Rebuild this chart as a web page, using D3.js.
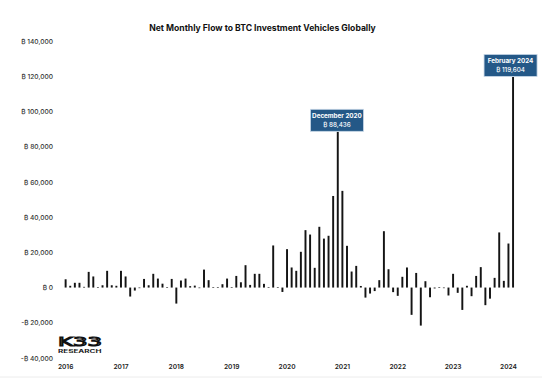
<!DOCTYPE html>
<html><head><meta charset="utf-8">
<script src="https://cdn.jsdelivr.net/npm/d3@7"></script>
<style>
body{margin:0;background:#fff;}
svg{display:block;font-family:Inter,'Noto Sans','DejaVu Sans',sans-serif;}
</style></head>
<body><svg id="c" width="553" height="383"></svg>
<script>
const title = "Net Monthly Flow to BTC Investment Vehicles Globally";
const startMonth = "2016-01";
// net monthly flow in BTC, Jan 2016 .. Feb 2024
const flow2016 = [4700, 1000, 2700, 2700, 400, 8900, 6300, 300, 1300, 9500, 1300, 1000];
const flow2017 = [9500, 6300, -5100, -1700, -300, 4900, 1300, 7800, 5100, 2200, 200, 4900];
const flow2018 = [-9100, 4000, 5100, 800, 1100, -200, 10200, 4200, 200, 300, 1900, 5100];
const flow2019 = [200, 6600, 3000, 12700, 1500, 7800, 7800, 2100, 300, 23900, 300, -2500];
const flow2020 = [21800, 11400, 9500, 20300, 32600, 30100, 11200, 34500, 27800, 29400, 52000, 88436];
const flow2021 = [54900, 23700, 9100, 12300, 900, -5700, -3400, -2000, 4200, 32000, 10400, -2600];
const flow2022 = [-4700, 6100, 11400, -15500, 8300, -21600, 3600, -5500, -500, 200, -300, -4500];
const flow2023 = [7800, -3000, -12700, 1000, -4900, 6600, 11600, -10000, -6300, 5500, 31300, 3800];
const flow2024 = [25000, 119604];
const yTicks = [-40000, -20000, 0, 20000, 40000, 60000, 80000, 100000, 120000, 140000];
const yearLabels = ["2016","2017","2018","2019","2020","2021","2022","2023","2024"];
const callouts = [{month:"2020-12", label:"December 2020"}, {month:"2024-02", label:"February 2024"}];

const values = [].concat(flow2016, flow2017, flow2018, flow2019, flow2020, flow2021, flow2022, flow2023, flow2024);
const parse = d3.timeParse("%Y-%m");
const fmtKey = d3.timeFormat("%Y-%m");
const t0 = parse(startMonth);
const months = values.map((v,i)=> fmtKey(d3.timeMonth.offset(t0, i)));
const data = months.map((m,i)=>({m, v: values[i]}));

const svg = d3.select("#c");
const step = 4.64, c0 = 64.3;
const x = d3.scaleBand().domain(months)
  .range([c0 - step/2, c0 + step*(months.length-1) + step/2]).padding(0.58).align(0.5);
const y = d3.scaleLinear().domain([-40000, 140000]).range([358, 41]);
const btc = d3.format(",");
const yLab = v => (v < 0 ? "-\u20BF " : "\u20BF ") + btc(Math.abs(v));

// title
svg.append("text").attr("x", 262.5).attr("y", 31).attr("text-anchor","middle")
  .attr("font-size", 8.6).attr("font-weight", 700).attr("fill","#111").text(title);

// y axis labels
const yAxis = d3.axisLeft(y).tickValues(yTicks).tickFormat(yLab).tickSize(0).tickPadding(0);
const ga = svg.append("g").attr("transform","translate(53,0)").call(yAxis);
ga.select(".domain").remove();
ga.selectAll("text").attr("font-size", 6.6).attr("font-weight", 500).attr("fill","#333")
  .attr("font-family","Inter,'Noto Sans','DejaVu Sans',sans-serif");

// x axis year labels
const xAxis = d3.axisBottom(x).tickValues(yearLabels.map(yr => yr + "-01"))
  .tickFormat(d => d.slice(0,4)).tickSize(0).tickPadding(0);
const gx = svg.append("g").attr("transform","translate(0,364)").call(xAxis);
gx.select(".domain").remove();
gx.selectAll("text").attr("font-size", 6.6).attr("font-weight", 600).attr("fill","#222")
  .attr("font-family","Inter,'Noto Sans','DejaVu Sans',sans-serif");

// bars
svg.append("g").selectAll("rect").data(data).join("rect")
  .attr("x", d => x(d.m)).attr("width", x.bandwidth())
  .attr("y", d => y(Math.max(0, d.v)))
  .attr("height", d => Math.max(0.6, Math.abs(y(d.v) - y(0))))
  .attr("fill", "#141414");

// callouts
const cg = svg.append("g");
callouts.forEach(c => {
  const d = data.find(e => e.m === c.month);
  const cx = x(d.m) + x.bandwidth()/2 - (c.month === "2024-02" ? 2.5 : 0.8);
  const top = y(d.v);
  const w = 53, h = 22;
  const g = cg.append("g").attr("transform", `translate(${cx - w/2},${top - h - 0.5})`);
  g.append("rect").attr("width", w).attr("height", h).attr("fill","#245887")
    .attr("stroke","#c6d6e6").attr("stroke-width",0.8);
  g.append("text").attr("x", w/2).attr("y", 8.6).attr("text-anchor","middle")
    .attr("font-size", 6.3).attr("font-weight",700).attr("fill","#fff").text(c.label);
  g.append("text").attr("x", w/2).attr("y", 17.8).attr("text-anchor","middle")
    .attr("font-size", 6.3).attr("font-weight",500).attr("fill","#fff").text("\u20BF " + btc(d.v));
});

// logo
const lg = svg.append("g");
lg.append("text").attr("x", 58).attr("y", 345.5).attr("font-size", 12.5).attr("font-weight", 400)
  .attr("fill","none").attr("stroke","#111").attr("stroke-width",1.1)
  .attr("textLength", 44).attr("lengthAdjust","spacingAndGlyphs")
  .attr("font-family","'DejaVu Sans',sans-serif").text("K33");
lg.append("text").attr("x", 58).attr("y", 353.2).attr("font-size", 4.8).attr("font-weight", 700)
  .attr("fill","#222").attr("textLength", 43.5).attr("lengthAdjust","spacingAndGlyphs")
  .text("RESEARCH");

// faint bottom rule
svg.append("line").attr("x1", 0).attr("x2", 542).attr("y1", 377).attr("y2", 377)
  .attr("stroke","#ececec").attr("stroke-width",1);
</script></body></html>
